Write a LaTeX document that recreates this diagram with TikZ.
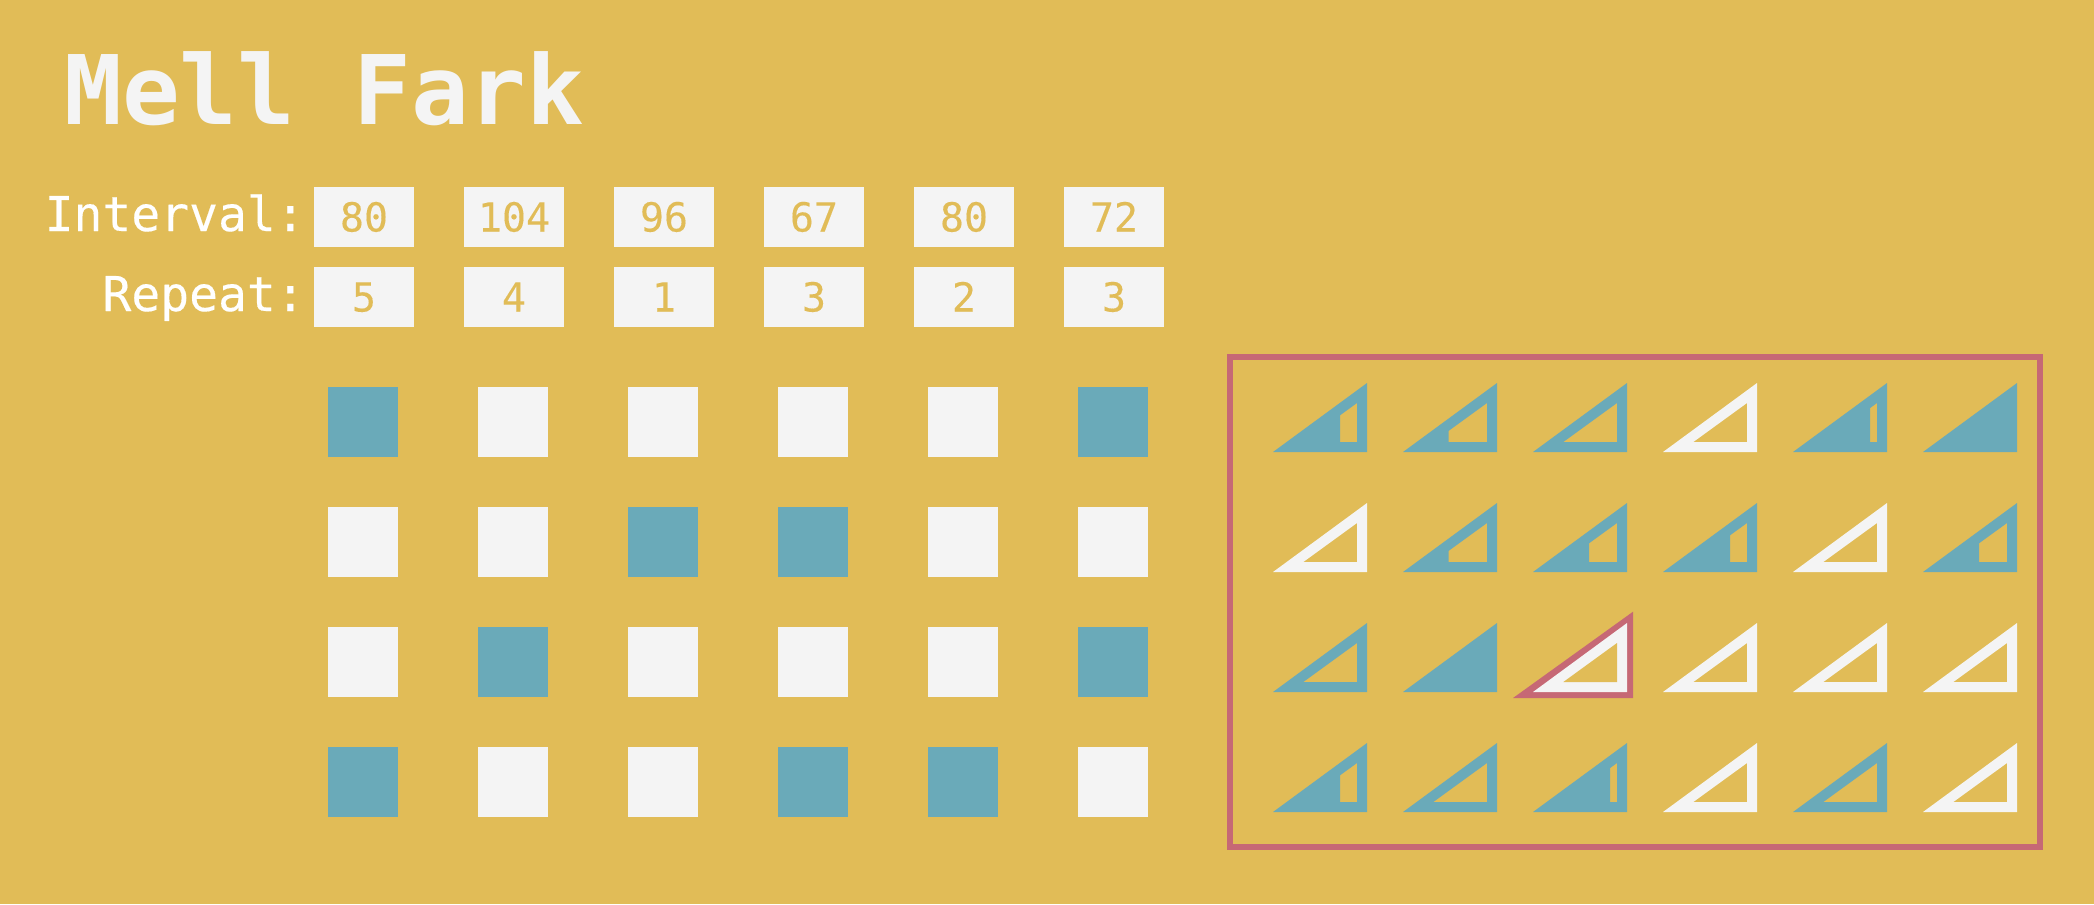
\documentclass[tikz,border=0pt]{standalone}
\usepackage{fontspec}
\setmonofont{DejaVu Sans Mono}
\newfontfamily\regfat[FakeBold=0.25]{DejaVu Sans Mono}
\definecolor{bgc}{HTML}{E1BC57}
\definecolor{tealc}{HTML}{6AAAB9}
\definecolor{whitec}{HTML}{F4F4F4}
\definecolor{pinkc}{HTML}{C66875}
\newcommand{\wedgeshape}[4]{%
  % #1 left x, #2 bottom y, #3 colour, #4 cut offset from left (30.3 = empty)
  \pgfmathsetmacro{\cutx}{#1+#4}
  \pgfmathsetmacro{\cuty}{#2-10-((#4)-30.3)*39/53.7}
  \fill[#3,even odd rule] (#1,#2) -- (#1+94,#2) -- (#1+94,#2-69) -- cycle
    (\cutx,#2-10) -- (#1+84,#2-10) -- (#1+84,#2-49) -- (\cutx,\cuty) -- cycle;
}
\newcommand{\solidshape}[3]{\fill[#3] (#1,#2) -- (#1+94,#2) -- (#1+94,#2-69) -- cycle;}
\tikzset{
  x=0.75pt,y=-0.75pt,
  title/.style={anchor=base west,inner sep=0,text=whitec,font=\fontsize{72}{72}\selectfont\ttfamily\bfseries},
  rowlabel/.style={anchor=base east,inner sep=0,text=white,font=\fontsize{36}{36}\selectfont\regfat},
  valbox/.style={fill=whitec,minimum width=75pt,minimum height=45pt,inner sep=0,outer sep=0},
  valtext/.style={anchor=base,inner sep=0,text=bgc,font=\fontsize{30}{30}\selectfont\regfat},
  cellw/.style={fill=whitec,minimum width=52.5pt,minimum height=52.5pt,inner sep=0,outer sep=0},
  cellt/.style={fill=tealc,minimum width=52.5pt,minimum height=52.5pt,inner sep=0,outer sep=0},
}
\begin{document}
\begin{tikzpicture}
\fill[bgc] (0,0) rectangle (2094,904);
\useasboundingbox (0,0) rectangle (2094,904);
\node[title] (ttl) at (64,124) {Mell Fark};
\node[rowlabel] (lint) at (305,231) {Interval:};
\node[rowlabel] (lrep) at (305,311) {Repeat:};
\foreach \i/\a/\b in {0/80/5,1/104/4,2/96/1,3/67/3,4/80/2,5/72/3}{
  \pgfmathsetmacro{\cx}{364+150*\i}
  \node[valbox] (ia\i) at (\cx,217) {};
  \node[valtext] (iat\i) at (\cx,231.5) {\a};
  \node[valbox] (rb\i) at (\cx,297) {};
  \node[valtext] (rbt\i) at (\cx,311.5) {\b};
}
\foreach \r/\cs in {0/{t,w,w,w,w,t},1/{w,w,t,t,w,w},2/{w,t,w,w,w,t},3/{t,w,w,t,t,w}}{
  \foreach \c [count=\k from 0] in \cs {
    \pgfmathsetmacro{\cx}{363+150*\k}
    \pgfmathsetmacro{\cy}{422+120*\r}
    \node[cell\c] (sq\r-\k) at (\cx,\cy) {};
  }
}
\draw[pinkc,line width=4.5pt] (1230,357) rectangle (2040,847);
% row 1
\wedgeshape{1273}{452}{tealc}{67}
\wedgeshape{1403}{452}{tealc}{45.67}
\wedgeshape{1533}{452}{tealc}{30.3}
\wedgeshape{1663}{452}{whitec}{30.3}
\wedgeshape{1793}{452}{tealc}{77}
\solidshape{1923}{452}{tealc}
% row 2
\wedgeshape{1273}{572}{whitec}{30.3}
\wedgeshape{1403}{572}{tealc}{45.67}
\wedgeshape{1533}{572}{tealc}{56}
\wedgeshape{1663}{572}{tealc}{67}
\wedgeshape{1793}{572}{whitec}{30.3}
\wedgeshape{1923}{572}{tealc}{56}
% row 3
\wedgeshape{1273}{692}{tealc}{30.3}
\solidshape{1403}{692}{tealc}
\fill[pinkc] (1513,698) -- (1633,698) -- (1633,611.7) -- cycle;
\solidshape{1533}{692}{whitec}
\fill[bgc] (1563.3,682) -- (1617,682) -- (1617,643) -- cycle;
\wedgeshape{1663}{692}{whitec}{30.3}
\wedgeshape{1793}{692}{whitec}{30.3}
\wedgeshape{1923}{692}{whitec}{30.3}
% row 4
\wedgeshape{1273}{812}{tealc}{67}
\wedgeshape{1403}{812}{tealc}{30.3}
\wedgeshape{1533}{812}{tealc}{77}
\wedgeshape{1663}{812}{whitec}{30.3}
\wedgeshape{1793}{812}{tealc}{30.3}
\wedgeshape{1923}{812}{whitec}{30.3}
\end{tikzpicture}
\end{document}
